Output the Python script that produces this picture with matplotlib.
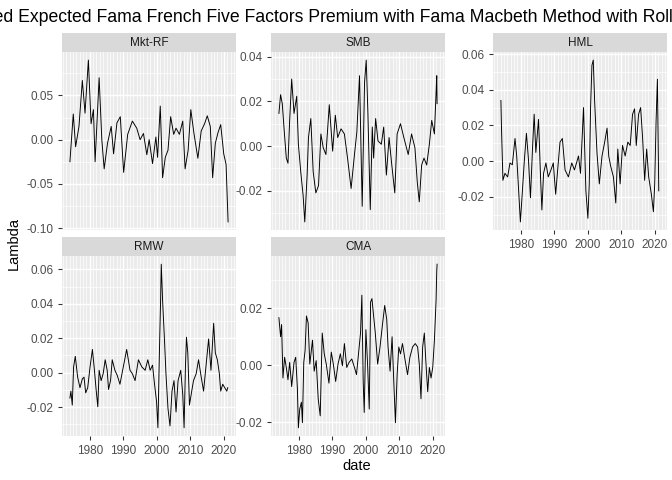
import numpy as np
import matplotlib.pyplot as plt
from matplotlib.ticker import FixedLocator

plt.rcParams['font.family'] = ['Liberation Sans', 'DejaVu Sans']

# values
mkt_year = [1974.1, 1975.1, 1975.8, 1976.8, 1977.8, 1978.6, 1979.6, 1980.4, 1981.1, 1981.6, 1982.8, 1983.6,
            1984.3, 1985.3, 1986.4, 1987.1, 1988.1, 1989.1, 1990.1, 1991.3, 1992.7, 1994.0, 1995.0, 1996.0,
            1997.0, 1997.7, 1998.7, 1999.7, 2000.2, 2001.0, 2001.7, 2002.5, 2003.3, 2004.1, 2005.0, 2005.7,
            2006.7, 2007.7, 2008.4, 2009.3, 2010.1, 2011.0, 2012.2, 2013.2, 2014.2, 2015.0, 2015.9, 2016.6,
            2017.4, 2018.2, 2019.0, 2019.9, 2020.6, 2021.2]
mkt_val = [-0.025, 0.029, -0.008, 0.015, 0.067, 0.03, 0.09, 0.018, 0.034, -0.025, 0.07, 0.0,
           -0.033, -0.004, 0.015, -0.016, 0.019, 0.026, -0.037, 0.006, 0.021, 0.013, 0.0, 0.007,
           -0.017, 0.0, -0.027, 0.003, -0.02, 0.038, -0.043, -0.02, -0.012, 0.026, 0.006, 0.013,
           0.006, 0.021, -0.033, -0.012, 0.034, 0.008, -0.021, 0.01, 0.018, 0.027, 0.015, -0.043,
           -0.004, 0.008, 0.017, -0.016, -0.028, -0.093]

smb_year = [1974.1, 1974.6, 1975.1, 1975.6, 1976.3, 1976.8, 1977.3, 1977.9, 1978.6, 1979.4, 1979.9, 1980.6,
            1981.3, 1981.8, 1982.5, 1982.9, 1983.6, 1984.3, 1985.1, 1985.9, 1986.6, 1987.3, 1988.1, 1989.1,
            1990.1, 1990.9, 1991.6, 1992.6, 1993.6, 1994.6, 1995.6, 1996.6, 1997.3, 1998.1, 1998.9, 1999.6,
            2000.1, 2000.6, 2001.3, 2001.9, 2002.3, 2002.9, 2003.6, 2004.6, 2005.3, 2006.1, 2006.9, 2007.6,
            2008.6, 2009.3, 2010.3, 2011.3, 2012.6, 2013.6, 2014.6, 2015.3, 2015.9, 2016.6, 2017.3, 2018.1,
            2018.9, 2019.6, 2020.4, 2020.9, 2021.1, 2021.2]
smb_val = [0.0146, 0.023, 0.019, 0.0085, -0.0054, -0.0077, 0.0115, 0.030, 0.0146, 0.0223, 0.0008, -0.0115,
           -0.022, -0.034, -0.013, 0.0038, 0.0123, -0.0115, -0.021, -0.0177, 0.0054, -0.0008, -0.0038, 0.0185,
           -0.0023, 0.0138, 0.0038, 0.0077, 0.0054, -0.0062, -0.019, -0.0038, 0.0062, 0.0315, -0.027, 0.0285,
           0.0385, 0.0146, -0.0285, 0.0085, -0.0054, 0.0123, 0.0023, 0.0008, 0.0085, -0.013, 0.0038, -0.0069,
           -0.021, 0.0054, 0.01, 0.0038, -0.0038, 0.0054, -0.0008, -0.0162, -0.025, -0.0085, -0.0054, -0.0085,
           0.0008, 0.0115, 0.0054, 0.024, 0.0315, 0.019]

hml_year = [1974.1, 1974.3, 1974.7, 1975.3, 1976.1, 1976.8, 1977.5, 1978.3, 1978.8, 1979.5, 1979.9, 1980.5,
            1981.1, 1981.7, 1982.3, 1982.9, 1983.5, 1984.0, 1984.5, 1985.3, 1985.9, 1986.3, 1986.8, 1987.5,
            1988.2, 1989.0, 1989.7, 1990.4, 1991.0, 1991.7, 1992.4, 1993.2, 1994.2, 1995.2, 1996.0, 1997.2,
            1997.8, 1998.7, 1999.4, 2000.0, 2000.4, 2000.8, 2001.2, 2001.6, 2002.0, 2002.7, 2003.4, 2004.2,
            2005.0, 2005.7, 2006.2, 2006.8, 2007.6, 2008.3, 2008.9, 2009.6, 2010.3, 2011.1, 2011.9, 2012.6,
            2013.3, 2013.9, 2014.4, 2015.1, 2015.7, 2016.3, 2016.9, 2017.5, 2018.1, 2018.9, 2019.5, 2019.9,
            2020.3, 2020.7, 2021.1]
hml_val = [0.034, 0.0166, -0.0107, -0.0068, -0.0088, -0.001, -0.002, 0.0127, 0.003, -0.0205, -0.034, -0.0166,
           0.001, 0.0156, 0.001, -0.0205, 0.0068, 0.0263, 0.0049, 0.0234, -0.0088, -0.0273, -0.0068, -0.001,
           -0.0088, -0.0049, -0.001, -0.0185, -0.0049, 0.0107, 0.0127, -0.0049, -0.0088, -0.001, -0.0049, 0.0029,
           -0.0068, 0.030, -0.0166, -0.032, -0.0127, 0.030, 0.0537, 0.0566, 0.034, 0.0049, -0.0127, 0.0029,
           0.0107, 0.0185, 0.0029, -0.0029, -0.0088, -0.0234, 0.0068, -0.0127, 0.0088, 0.0029, 0.0107, 0.0088,
           0.0263, 0.0293, 0.0088, 0.0263, 0.030, 0.0127, -0.0107, 0.0068, -0.0088, -0.0185, -0.0283, -0.0127,
           0.0224, 0.0459, -0.0166]

rmw_year = [1974.1, 1974.4, 1974.8, 1975.2, 1975.7, 1976.4, 1977.1, 1977.8, 1978.3, 1978.8, 1979.4, 1980.1,
            1980.8, 1981.4, 1981.9, 1982.4, 1982.8, 1983.4, 1984.0, 1984.6, 1985.2, 1985.6, 1986.2, 1986.7,
            1987.5, 1988.2, 1989.0, 1990.0, 1991.0, 1992.0, 1992.7, 1993.5, 1994.5, 1995.5, 1996.5, 1997.3,
            1998.0, 1998.7, 1999.3, 1999.9, 2000.3, 2000.7, 2001.1, 2001.3, 2001.7, 2002.2, 2002.7, 2003.3,
            2003.9, 2004.5, 2005.1, 2005.7, 2006.3, 2007.1, 2007.7, 2008.1, 2008.5, 2008.8, 2009.2, 2009.7,
            2010.2, 2010.9, 2011.7, 2012.4, 2013.2, 2013.9, 2014.6, 2015.4, 2016.1, 2016.9, 2017.4, 2018.0,
            2018.6, 2019.0, 2019.6, 2020.2, 2020.8, 2021.1]
rmw_val = [-0.0147, -0.0107, -0.0188, 0.0034, 0.0095, -0.0026, -0.0087, -0.0036, -0.0026, -0.0117, -0.0087, 0.0034,
           0.0135, 0.0014, -0.0097, -0.0198, 0.0014, -0.0046, -0.0006, 0.0075, 0.0014, -0.0097, -0.0046, 0.0075,
           0.0014, -0.0016, -0.0067, 0.0034, 0.0135, 0.0014, -0.0006, -0.0046, 0.0075, 0.0034, 0.0014, 0.0075,
           0.0014, 0.0044, -0.0067, -0.0168, -0.032, 0.0075, 0.0418, 0.063, 0.0418, 0.0216, -0.0006, -0.0208,
           -0.0309, -0.0107, -0.0046, -0.0228, -0.0046, 0.0014, -0.0127, -0.032, 0.0034, 0.0206, 0.0115, -0.0188,
           -0.0127, -0.0046, -0.0006, 0.0075, -0.0026, -0.0107, 0.0034, 0.0196, 0.0014, 0.0287, 0.0115, 0.0075,
           -0.0006, -0.0107, -0.0067, -0.0087, -0.0107, -0.0087]

cma_year = [1974.1, 1974.6, 1974.9, 1975.3, 1975.8, 1976.3, 1976.8, 1977.3, 1977.9, 1978.6, 1979.1, 1979.6,
            1979.9, 1980.3, 1980.8, 1981.1, 1981.5, 1981.9, 1982.3, 1982.8, 1983.3, 1984.1, 1984.6, 1985.2,
            1985.8, 1986.4, 1987.0, 1987.6, 1988.2, 1989.0, 1989.7, 1990.3, 1991.0, 1991.7, 1992.4, 1993.0,
            1993.6, 1994.3, 1995.0, 1995.8, 1996.6, 1997.2, 1997.8, 1998.4, 1998.8, 1999.2, 1999.5, 2000.0,
            2000.5, 2001.0, 2001.4, 2001.8, 2002.2, 2002.8, 2003.5, 2004.2, 2005.0, 2005.6, 2006.2, 2006.6,
            2007.2, 2007.8, 2008.3, 2008.8, 2009.3, 2009.8, 2010.3, 2010.9, 2011.7, 2012.4, 2013.1, 2013.9,
            2014.7, 2015.4, 2015.9, 2016.4, 2016.9, 2017.4, 2017.9, 2018.4, 2018.9, 2019.4, 2019.9, 2020.4,
            2020.9, 2021.1, 2021.2]
cma_val = [0.0167, 0.010, 0.0143, -0.0045, 0.0028, -0.0008, -0.0051, 0.001, -0.0075, 0.001, 0.0028, -0.0081,
           -0.022, -0.0154, -0.013, -0.0202, 0.001, 0.0052, 0.0173, 0.0149, 0.0004, 0.0088, -0.0021, 0.0016,
           -0.0118, -0.0178, 0.0113, 0.004, 0.0004, -0.0063, 0.0046, 0.0004, -0.0057, 0.0004, 0.004, -0.0002,
           0.0076, -0.0008, 0.001, 0.0022, -0.0008, -0.0033, 0.004, 0.0113, 0.0246, -0.0057, -0.0166, 0.0125,
           0.0004, -0.0154, 0.0222, 0.0234, 0.0185, 0.0113, 0.0004, 0.0064, 0.0149, 0.021, 0.0161, 0.0064,
           -0.0021, 0.010, -0.0057, -0.0202, -0.0033, 0.0064, 0.004, 0.0076, 0.0016, -0.0033, 0.0028, 0.0064,
           0.0076, 0.0064, 0.0004, -0.0118, 0.0064, 0.0113, 0.0004, -0.0093, -0.0008, -0.0045, -0.0008, 0.0088,
           0.0228, 0.0331, 0.0355]

factors = ['Mkt-RF', 'SMB', 'HML', 'RMW', 'CMA']
years = [mkt_year, smb_year, hml_year, rmw_year, cma_year]
values = [mkt_val, smb_val, hml_val, rmw_val, cma_val]
yticks = [[-0.10, -0.05, 0.00, 0.05],
          [-0.02, 0.00, 0.02, 0.04],
          [-0.02, 0.00, 0.02, 0.04, 0.06],
          [-0.02, 0.00, 0.02, 0.04, 0.06],
          [-0.02, 0.00, 0.02]]

W, H = 672, 480
fig = plt.figure(figsize=(7, 5), dpi=96)

# panel boxes in pixels
col_x = [(62, 236), (271, 445), (493, 667)]
row_y = [(52, 230), (256, 436)]
strip_h = 19

for i, name in enumerate(factors):
    r, c = divmod(i, 3)
    x0, x1 = col_x[c]
    y0, y1 = row_y[r]
    ax = fig.add_axes([x0 / W, 1 - y1 / H, (x1 - x0) / W, (y1 - y0) / H])
    ax.set_facecolor('#EBEBEB')
    for s in ax.spines.values():
        s.set_visible(False)

    yr = np.array(years[i])
    v = np.array(values[i])
    ax.plot(yr, v, color='black', lw=0.7, zorder=3)

    xlo, xhi = 1974.1, 2021.2
    pad = (xhi - xlo) * 0.05
    ax.set_xlim(xlo - pad, xhi + pad)
    lo, hi = v.min(), v.max()
    ypad = (hi - lo) * 0.05
    ax.set_ylim(lo - ypad, hi + ypad)

    ax.xaxis.set_major_locator(FixedLocator([1980, 1990, 2000, 2010, 2020]))
    ax.xaxis.set_minor_locator(FixedLocator(np.arange(1972, 2024, 1)))
    yt = yticks[i]
    step = yt[1] - yt[0]
    ax.yaxis.set_major_locator(FixedLocator(yt))
    ax.yaxis.set_minor_locator(FixedLocator(np.arange(yt[0] - step / 2, yt[-1] + step, step)))
    ax.grid(True, which='major', color='white', lw=1.0)
    ax.grid(True, which='minor', color='white', lw=0.5)
    ax.set_axisbelow(True)
    ax.set_yticklabels(['%.2f' % t for t in yt])
    ax.tick_params(which='major', length=3, color='#333333', labelcolor='#4D4D4D', labelsize=8.8, width=0.8)
    ax.tick_params(which='minor', length=0)

    if not (r == 1 or c == 2):
        ax.tick_params(axis='x', which='major', length=0, labelbottom=False)

    # strip
    sax = fig.add_axes([x0 / W, 1 - y0 / H, (x1 - x0) / W, strip_h / H])
    sax.set_facecolor('#D9D9D9')
    sax.set_xticks([])
    sax.set_yticks([])
    for s in sax.spines.values():
        s.set_visible(False)
    sax.text(0.5, 0.5, name, ha='center', va='center', fontsize=8.8, color='#1A1A1A', transform=sax.transAxes)

fig.text(350 / W, 1 - 17 / H,
         'Estimated Expected Fama French Five Factors Premium with Fama Macbeth Method with Rolling Window',
         ha='center', va='center', fontsize=13.2)
fig.text(357 / W, 1 - 466 / H, 'date', ha='center', va='center', fontsize=11)
fig.text(14 / W, 1 - 244 / H, 'Lambda', ha='center', va='center', fontsize=11, rotation=90)

fig.savefig('out.png', dpi=96)
